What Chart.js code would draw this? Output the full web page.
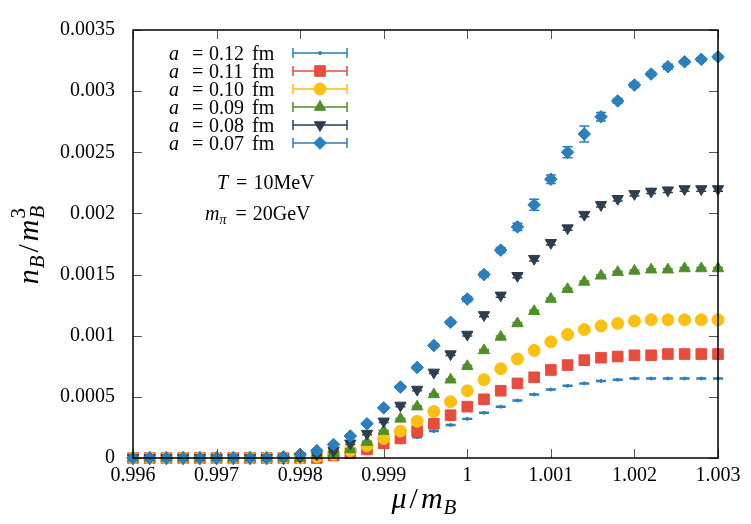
<!DOCTYPE html>
<html>
<head>
<meta charset="utf-8">
<script src="https://cdn.jsdelivr.net/npm/chart.js@4.4.0/dist/chart.umd.min.js"></script>
<style>
html, body { margin: 0; padding: 0; background: #fff; }
#wrap { width: 751px; height: 524px; }
</style>
</head>
<body>
<div id="wrap"><canvas id="grafico" width="751" height="524"></canvas></div>
<script>
const muValues = [0.996, 0.9962, 0.9964, 0.9966, 0.9968, 0.997, 0.9972, 0.9974, 0.9976, 0.9978,
    0.998, 0.9982, 0.9984, 0.9986, 0.9988, 0.999, 0.9992, 0.9994, 0.9996, 0.9998,
    1.0, 1.0002, 1.0004, 1.0006, 1.0008, 1.001, 1.0012, 1.0014, 1.0016, 1.0018,
    1.002, 1.0022, 1.0024, 1.0026, 1.0028, 1.003];

const nB012 = [0, 0, 0, 0, 0, 0, 0, 0, 0, 0, 0, 0, 0.00001, 0.00003, 0.00006, 0.00009, 0.00013, 0.00017,
    0.00022, 0.00027, 0.00032, 0.00037, 0.00042, 0.00047, 0.00052, 0.00056, 0.00059, 0.00061,
    0.00063, 0.00064, 0.00065, 0.00065, 0.00065, 0.00065, 0.00065, 0.00065];
const nB011 = [0, 0, 0, 0, 0, 0, 0, 0, 0, 0, 0, 0, 0.00002, 0.00004, 0.00007, 0.00012, 0.00016, 0.00022,
    0.00028, 0.00035, 0.00042, 0.00048, 0.00055, 0.00061, 0.00066, 0.00072, 0.00076, 0.0008,
    0.00082, 0.00083, 0.00084, 0.00084, 0.00085, 0.00085, 0.00085, 0.00085];
const nB010 = [0, 0, 0, 0, 0, 0, 0, 0, 0, 0, 0, 0.00001, 0.00003, 0.00006, 0.0001, 0.00016, 0.00022, 0.0003,
    0.00038, 0.00046, 0.00055, 0.00064, 0.00073, 0.00081, 0.00088, 0.00095, 0.00101, 0.00105,
    0.00108, 0.0011, 0.00112, 0.00113, 0.00113, 0.00113, 0.00113, 0.00113];
const nB009 = [0, 0, 0, 0, 0, 0, 0, 0, 0, 0, 0, 0.00002, 0.00004, 0.00007, 0.00013, 0.00022, 0.00032, 0.00042,
    0.00052, 0.00064, 0.00075, 0.00088, 0.00099, 0.0011, 0.0012, 0.0013, 0.00138, 0.00144,
    0.00149, 0.00152, 0.00153, 0.00154, 0.00154, 0.00155, 0.00155, 0.00155];
const nB008 = [0, 0, 0, 0, 0, 0, 0, 0, 0, 0, 0.00001, 0.00003, 0.00006, 0.00012, 0.0002, 0.0003, 0.00043, 0.00056,
    0.0007, 0.00085, 0.00101, 0.00117, 0.00133, 0.00149, 0.00163, 0.00176, 0.00188, 0.00199,
    0.00207, 0.00212, 0.00216, 0.00218, 0.00219, 0.0022, 0.0022, 0.0022];
const nB007 = [0, 0, 0, 0, 0, 0, 0, 0, 0, 0.00001, 0.00003, 0.00006, 0.00011, 0.00018, 0.00028, 0.00041, 0.00058, 0.00074,
    0.00092, 0.00111, 0.0013, 0.0015, 0.0017, 0.00189, 0.00207, 0.00228, 0.0025, 0.00265,
    0.00279, 0.00292, 0.00305, 0.00314, 0.0032, 0.00324, 0.00326, 0.00328];

const err012 = [0.000004, 0.000004, 0.000004, 0.000004, 0.000004, 0.000004, 0.000004, 0.000004, 0.000004, 0.000004,
    0.000004, 0.000004, 0.000004, 0.000004, 0.000004, 0.000004, 0.000004, 0.000004, 0.000004, 0.000004,
    0.000004, 0.000004, 0.000004, 0.000004, 0.000004, 0.000004, 0.000004, 0.000004, 0.000004, 0.000004,
    0.000004, 0.000004, 0.000004, 0.000004, 0.000004, 0.000004];
const err011 = [0, 0, 0, 0, 0, 0, 0, 0, 0, 0, 0, 0, 0.000005, 0.000005, 0.000005, 0.000005, 0.000005, 0.000005,
    0.000005, 0.000005, 0.000005, 0.000005, 0.000005, 0.000005, 0.000005, 0.000005, 0.000005, 0.000005,
    0.000005, 0.000005, 0.000005, 0.000005, 0.000005, 0.000005, 0.000005, 0.000005];
const err010 = [0, 0, 0, 0, 0, 0, 0, 0, 0, 0, 0, 0.000005, 0.000005, 0.000005, 0.000005, 0.000005, 0.000005, 0.000005,
    0.000005, 0.000005, 0.000005, 0.000005, 0.000005, 0.000005, 0.000005, 0.000005, 0.000005, 0.000005,
    0.000005, 0.000005, 0.000005, 0.000005, 0.000005, 0.000005, 0.000005, 0.000005];
const err009 = [0, 0, 0, 0, 0, 0, 0, 0, 0, 0, 0, 0.000006, 0.000006, 0.000006, 0.000006, 0.000006, 0.000006, 0.000006,
    0.000006, 0.000006, 0.000008, 0.000008, 0.000008, 0.000008, 0.000008, 0.000008, 0.000008, 0.000008,
    0.000008, 0.000008, 0.000008, 0.000008, 0.000008, 0.000008, 0.000008, 0.000008];
const err008 = [0, 0, 0, 0, 0, 0, 0, 0, 0, 0, 0.00001, 0.00001, 0.00001, 0.00001, 0.00001, 0.00001, 0.00001, 0.00001,
    0.00001, 0.000012, 0.000012, 0.000015, 0.000015, 0.000015, 0.000018, 0.000018, 0.000018, 0.000018,
    0.000018, 0.000018, 0.000018, 0.000018, 0.000018, 0.000018, 0.000018, 0.000018];
const err007 = [0, 0, 0, 0, 0, 0, 0, 0, 0, 0, 0.00001, 0.00001, 0.00001, 0.00001, 0.00001, 0.00001, 0.000012, 0.000012,
    0.000015, 0.000015, 0.00002, 0.00002, 0.000022, 0.00003, 0.000045, 0.000035, 0.000045, 0.000065,
    0.000035, 0.00002, 0.00002, 0.000015, 0.00002, 0.000015, 0.000015, 0.000015];

const seriesLabels = ['0.12', '0.11', '0.10', '0.09', '0.08', '0.07'];
const xTickValues = [0.996, 0.997, 0.998, 0.999, 1.0, 1.001, 1.002, 1.003];
const xTickLabels = ['0.996', '0.997', '0.998', '0.999', '1', '1.001', '1.002', '1.003'];
const yTickValues = [0, 0.0005, 0.001, 0.0015, 0.002, 0.0025, 0.003, 0.0035];
const yTickLabels = ['0', '0.0005', '0.001', '0.0015', '0.002', '0.0025', '0.003', '0.0035'];

const serif = '"Liberation Serif", "DejaVu Serif", serif';

function toPoints(ys) {
    return muValues.map((x, i) => ({ x: x, y: ys[i] }));
}

function makeSet(label, ys, errs, color, style, radius, rotation, order) {
    return {
        label: label,
        data: toPoints(ys),
        errors: errs,
        backgroundColor: color,
        borderColor: color,
        borderWidth: 1,
        pointStyle: style,
        pointRadius: radius,
        pointRotation: rotation,
        showLine: false,
        clip: false,
        order: order
    };
}

function drawParts(ctx, parts, x, y) {
    let cx = x;
    parts.forEach(p => {
        ctx.font = p.font;
        ctx.fillText(p.t, cx, y + (p.dy || 0));
        if (!p.stay) cx += ctx.measureText(p.t).width + (p.gap || 0);
    });
    return cx - x;
}

function partsWidth(ctx, parts) {
    let w = 0;
    parts.forEach(p => {
        ctx.font = p.font;
        if (!p.stay) w += ctx.measureText(p.t).width + (p.gap || 0);
    });
    return w;
}

const errorBars = {
    id: 'errorBars',
    beforeDatasetDraw(chart, args) {
        const ds = chart.data.datasets[args.index];
        const ctx = chart.ctx;
        const ys = chart.scales.y;
        ctx.save();
        ctx.strokeStyle = ds.borderColor;
        ctx.lineWidth = 1.5;
        args.meta.data.forEach((pt, i) => {
            const e = ds.errors[i];
            if (!e) return;
            const v = ds.data[i].y;
            const y1 = ys.getPixelForValue(v - e);
            const y2 = ys.getPixelForValue(v + e);
            ctx.beginPath();
            ctx.moveTo(pt.x, y1); ctx.lineTo(pt.x, y2);
            ctx.moveTo(pt.x - 5, y1); ctx.lineTo(pt.x + 5, y1);
            ctx.moveTo(pt.x - 5, y2); ctx.lineTo(pt.x + 5, y2);
            ctx.stroke();
        });
        ctx.restore();
    }
};

const frameAndText = {
    id: 'frameAndText',
    afterDraw(chart) {
        const ctx = chart.ctx;
        const a = chart.chartArea;
        const xs = chart.scales.x, ys = chart.scales.y;
        ctx.save();
        // tick marks inside, on all four sides
        ctx.strokeStyle = '#555';
        ctx.lineWidth = 1;
        ctx.beginPath();
        xTickValues.forEach(v => {
            const px = Math.round(xs.getPixelForValue(v)) + 0.5;
            ctx.moveTo(px, a.bottom); ctx.lineTo(px, a.bottom - 9);
            ctx.moveTo(px, a.top); ctx.lineTo(px, a.top + 9);
        });
        yTickValues.forEach(v => {
            const py = Math.round(ys.getPixelForValue(v)) + 0.5;
            ctx.moveTo(a.left, py); ctx.lineTo(a.left + 9, py);
            ctx.moveTo(a.right, py); ctx.lineTo(a.right - 9, py);
        });
        ctx.stroke();
        ctx.strokeStyle = '#000';
        ctx.lineWidth = 1.5;
        ctx.strokeRect(a.left, a.top, a.right - a.left, a.bottom - a.top);

        // legend
        ctx.textBaseline = 'alphabetic';
        chart.data.datasets.forEach((ds, i) => {
            const ry = 53 + i * 18;
            ctx.fillStyle = '#000';
            ctx.font = 'italic 20px ' + serif;
            ctx.fillText('a', 169, ry + 7);
            ctx.font = '20px ' + serif;
            ctx.fillText('=', 192, ry + 7);
            ctx.fillText(seriesLabels[i], 209, ry + 7);
            ctx.fillText('fm', 252, ry + 7);
            ctx.strokeStyle = ds.borderColor;
            ctx.fillStyle = ds.backgroundColor;
            ctx.lineWidth = 1.5;
            ctx.beginPath();
            ctx.moveTo(293, ry); ctx.lineTo(347, ry);
            ctx.moveTo(293, ry - 5); ctx.lineTo(293, ry + 5);
            ctx.moveTo(347, ry - 5); ctx.lineTo(347, ry + 5);
            ctx.stroke();
            ctx.lineWidth = 1;
            Chart.helpers.drawPoint(ctx, {
                pointStyle: ds.pointStyle, radius: ds.pointRadius,
                rotation: ds.pointRotation, borderWidth: 1
            }, 320, ry);
        });

        // annotations
        ctx.fillStyle = '#000';
        drawParts(ctx, [
            { t: 'T', font: 'italic 20px ' + serif, gap: 8 },
            { t: '=', font: '20px ' + serif, gap: 6 },
            { t: '10MeV', font: '20px ' + serif }
        ], 217, 189);
        drawParts(ctx, [
            { t: 'm', font: 'italic 20px ' + serif, gap: 0 },
            { t: 'π', font: 'italic 14px ' + serif, dy: 4, gap: 9 },
            { t: '=', font: '20px ' + serif, gap: 6 },
            { t: '20GeV', font: '20px ' + serif }
        ], 205, 220);

        // axis titles
        const xt = [
            { t: 'μ', font: 'italic 30px ' + serif, gap: 3 },
            { t: '/', font: '30px ' + serif, gap: 3 },
            { t: 'm', font: 'italic 30px ' + serif, gap: 1 },
            { t: 'B', font: 'italic 21px ' + serif, dy: 6 }
        ];
        drawParts(ctx, xt, 424 - partsWidth(ctx, xt) / 2, 508);

        const yt = [
            { t: 'n', font: 'italic 30px ' + serif, gap: 1 },
            { t: 'B', font: 'italic 21px ' + serif, dy: 6, gap: 3 },
            { t: '/', font: '30px ' + serif, gap: 3 },
            { t: 'm', font: 'italic 30px ' + serif, gap: 1 },
            { t: '3', font: '21px ' + serif, dy: -13, stay: true },
            { t: 'B', font: 'italic 21px ' + serif, dy: 6 }
        ];
        ctx.translate(38, 245);
        ctx.rotate(-Math.PI / 2);
        drawParts(ctx, yt, -partsWidth(ctx, yt) / 2, 0);
        ctx.restore();
    }
};

const ctx = document.getElementById('grafico').getContext('2d');
new Chart(ctx, {
    type: 'scatter',
    data: {
        datasets: [
            makeSet('a = 0.12 fm', nB012, err012, '#2a7fbd', 'circle', 1.5, 0, 6),
            makeSet('a = 0.11 fm', nB011, err011, '#e74c3c', 'rect', 7.5, 0, 5),
            makeSet('a = 0.10 fm', nB010, err010, '#fcc010', 'circle', 6, 0, 4),
            makeSet('a = 0.09 fm', nB009, err009, '#4f8f2a', 'triangle', 6.5, 0, 3),
            makeSet('a = 0.08 fm', nB008, err008, '#2c3e50', 'triangle', 6.5, 180, 2),
            makeSet('a = 0.07 fm', nB007, err007, '#2a7fbd', 'rectRot', 6.3, 0, 1)
        ]
    },
    options: {
        responsive: false,
        animation: false,
        events: [],
        layout: { padding: { left: 0, top: 21, right: 33, bottom: 0 } },
        plugins: {
            legend: { display: false },
            tooltip: { enabled: false }
        },
        scales: {
            x: {
                type: 'linear',
                min: 0.996,
                max: 1.003,
                grid: { display: false, drawTicks: false },
                border: { display: false },
                afterBuildTicks: s => { s.ticks = xTickValues.map(v => ({ value: v })); },
                afterFit: s => { s.height = 66; },
                ticks: {
                    padding: 6,
                    color: '#000',
                    font: { family: serif, size: 20 },
                    maxRotation: 0,
                    callback: (v, i) => xTickLabels[i]
                }
            },
            y: {
                type: 'linear',
                min: 0,
                max: 0.0035,
                grid: { display: false, drawTicks: false },
                border: { display: false },
                afterBuildTicks: s => { s.ticks = yTickValues.map(v => ({ value: v })); },
                afterFit: s => { s.width = 133; },
                ticks: {
                    padding: 18,
                    color: '#000',
                    font: { family: serif, size: 20 },
                    callback: (v, i) => yTickLabels[i]
                }
            }
        }
    },
    plugins: [errorBars, frameAndText]
});
</script>
</body>
</html>
